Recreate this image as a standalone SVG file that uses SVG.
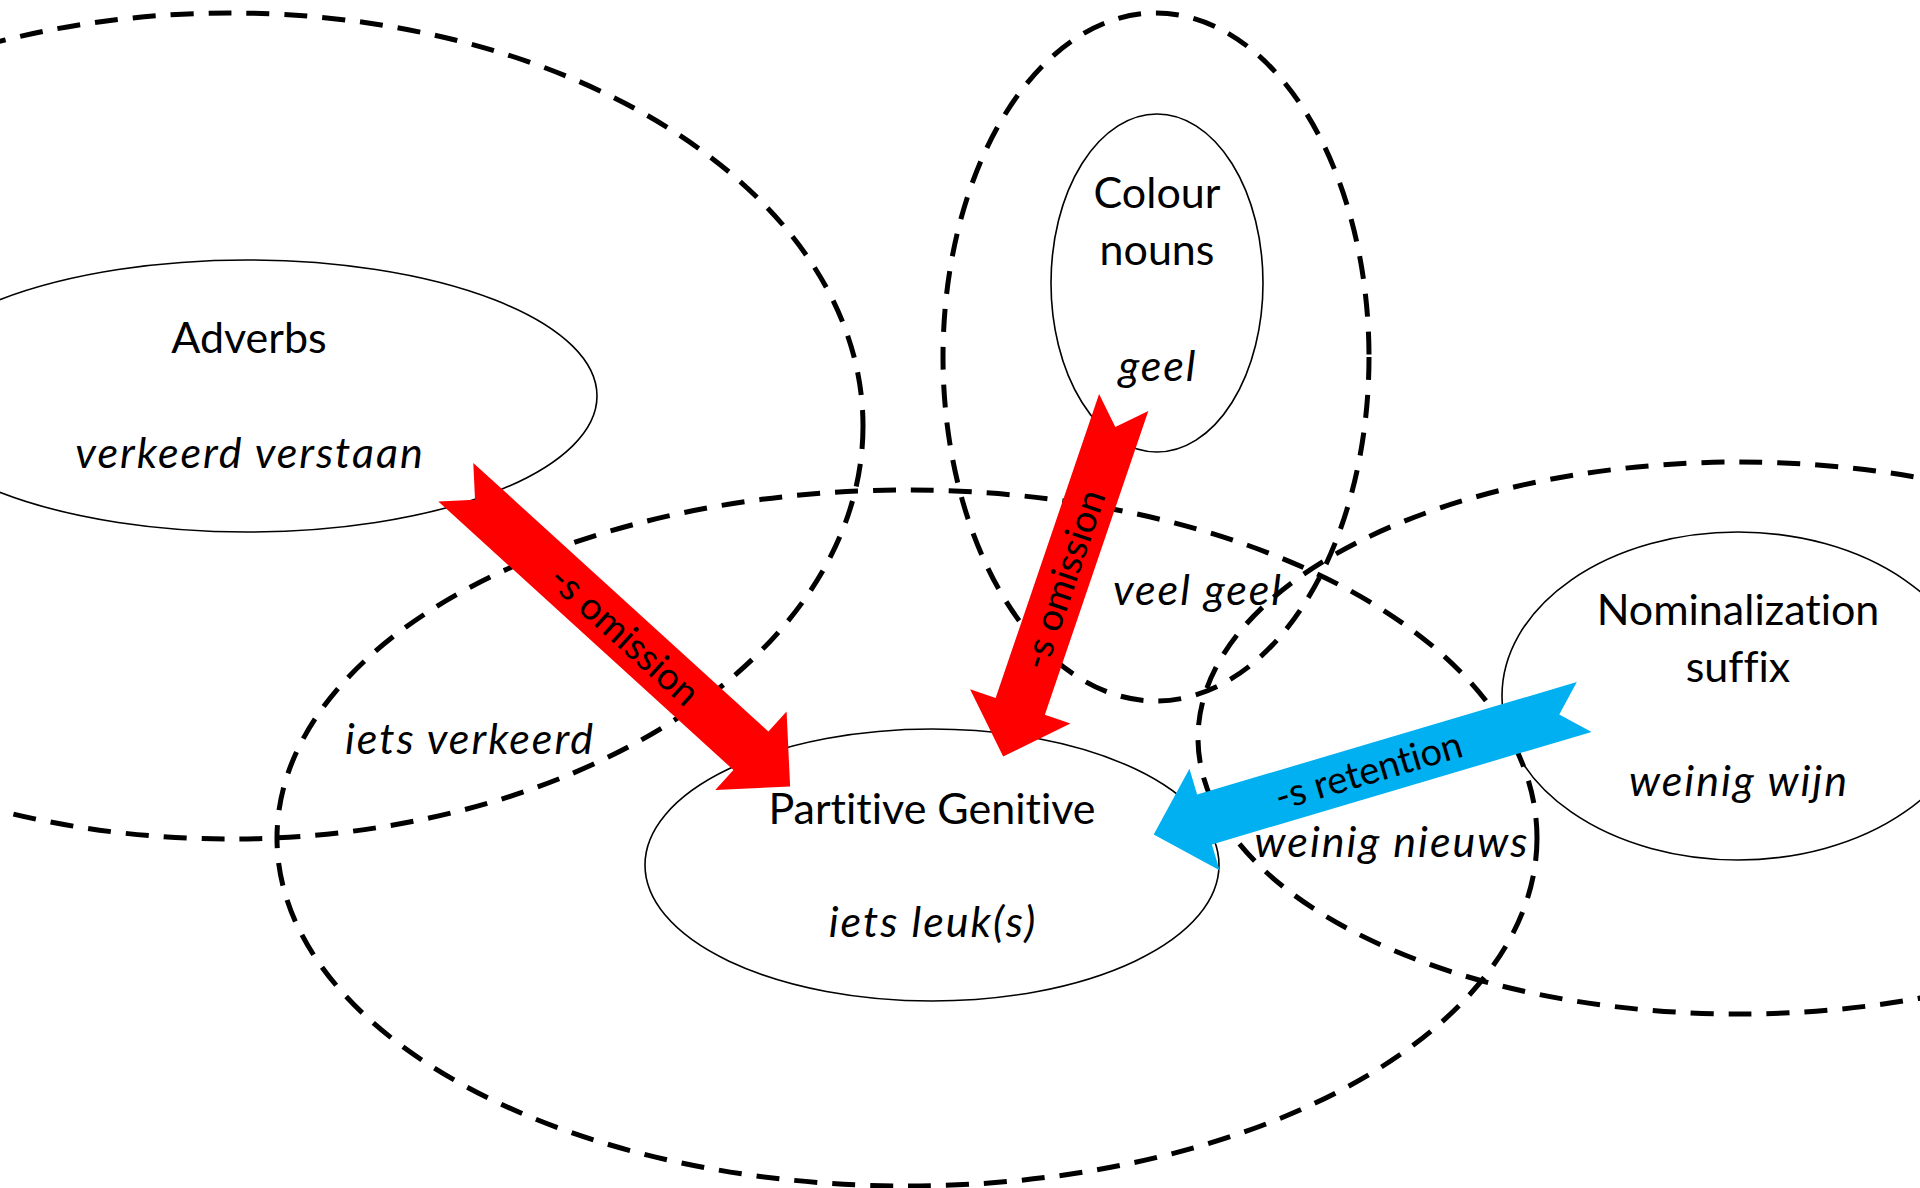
<svg xmlns="http://www.w3.org/2000/svg" width="1920" height="1188" viewBox="0 0 1920 1188">
<style>
.dash{fill:none;stroke:#000;stroke-width:5;stroke-dasharray:23 15}
.node{fill:none;stroke:#000;stroke-width:1.6}
.t{font-family:Lato,"Liberation Sans",sans-serif;font-size:43px;fill:#000;text-anchor:middle;font-variant-ligatures:none;font-feature-settings:"liga" 0,"dlig" 0}
.i{font-style:italic;letter-spacing:2px}
.lbl{font-family:Lato,"Liberation Sans",sans-serif;font-size:38px;fill:#000;text-anchor:middle;font-variant-ligatures:none}
.red{fill:#FF0000}
.blue{fill:#00B0F0}
</style>
<rect width="1920" height="1188" fill="#fff"/>
<g id="regions">
<ellipse id="region-adverbs" class="dash" cx="230" cy="426" rx="633" ry="413"/>
<ellipse id="region-colour" class="dash" cx="1156" cy="357" rx="213" ry="344"/>
<ellipse id="region-partitive" class="dash" cx="907" cy="838" rx="630" ry="348"/>
<ellipse id="region-nominal" class="dash" cx="1739" cy="738" rx="541" ry="276"/>
</g>
<g id="node-adverbs">
<ellipse class="node" cx="247" cy="396" rx="350" ry="136"/>
<text class="t" x="249" y="353">Adverbs</text>
<text class="t i" x="250" y="468">verkeerd verstaan</text>
</g>
<g id="node-colour">
<ellipse class="node" cx="1157" cy="283" rx="106" ry="169"/>
<text class="t" x="1157" y="208">Colour</text>
<text class="t" x="1157" y="265">nouns</text>
<text class="t i" x="1158" y="381">geel</text>
</g>
<g id="node-partitive">
<ellipse class="node" cx="932" cy="865" rx="287" ry="136"/>
<text class="t" x="932" y="824">Partitive Genitive</text>
<text class="t i" x="933" y="937">iets leuk(s)</text>
</g>
<g id="node-nominal">
<ellipse class="node" cx="1738" cy="696" rx="236" ry="164"/>
<text class="t" x="1738" y="625">Nominalization</text>
<text class="t" x="1738" y="682">suffix</text>
<text class="t i" x="1739" y="796">weinig wijn</text>
</g>
<g id="overlap-labels">
<text class="t i" x="470" y="754">iets verkeerd</text>
<text class="t i" x="1198" y="605">veel geel</text>
<text class="t i" x="1392" y="857">weinig nieuws</text>
</g>
<g id="connectors">
<g id="arrow-adverbs" transform="translate(455.8,482.2) rotate(42.3)">
<polygon class="red" points="0,-26 399,-26 399,-53 452,0 399,53 399,26 0,26 26,0"/>
<text class="lbl" x="228" y="13">-s omission</text>
</g>
<g id="arrow-colour" transform="translate(1123.7,402.5) rotate(108.8)">
<polygon class="red" points="0,-26 321,-26 321,-53 374,0 321,53 321,26 0,26 26,0"/>
<text class="lbl" x="187" y="13" transform="rotate(180,187,0)">-s omission</text>
</g>
<g id="arrow-nominal" transform="translate(1584.2,707) rotate(163.5)">
<polygon class="blue" points="0,-26 396,-26 396,-53 449,0 396,53 396,26 0,26 26,0"/>
<text class="lbl" x="225" y="13" transform="rotate(180,225,0)">-s retention</text>
</g>
</g>
</svg>
